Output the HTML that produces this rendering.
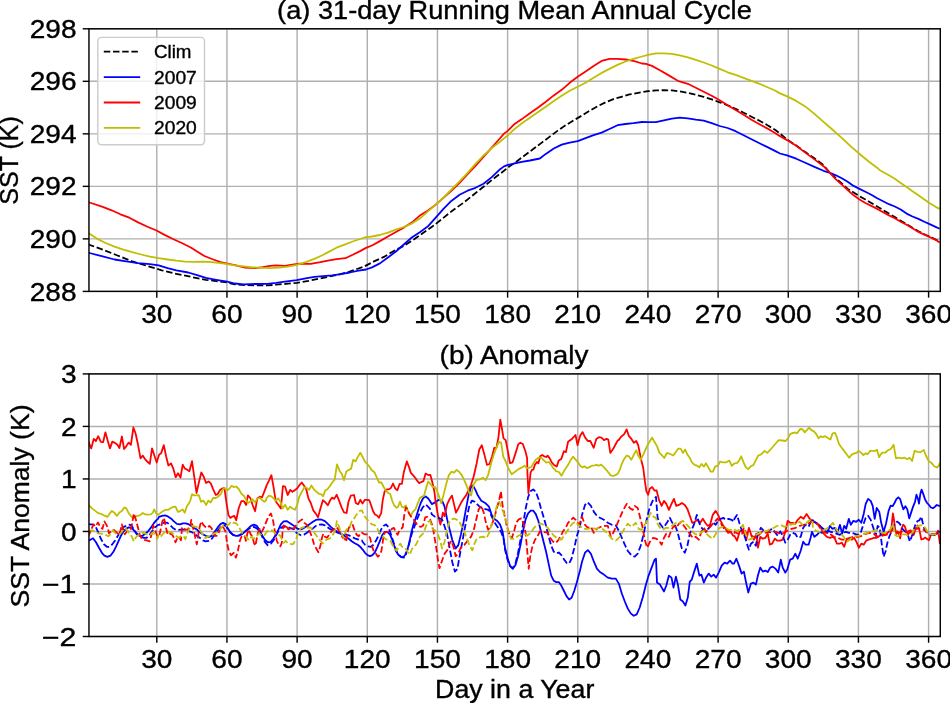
<!DOCTYPE html>
<html><head><meta charset="utf-8"><style>html,body{margin:0;padding:0;background:#fff;overflow:hidden}svg{display:block;will-change:transform}text{font-family:"Liberation Sans", sans-serif}</style></head>
<body>
<svg width="950" height="703" viewBox="0 0 950 703">
<rect width="950" height="703" fill="#fff"/>
<line x1="156.79" y1="28.8" x2="156.79" y2="291.4" stroke="#b0b0b0" stroke-width="1.43"/>
<line x1="226.95" y1="28.8" x2="226.95" y2="291.4" stroke="#b0b0b0" stroke-width="1.43"/>
<line x1="297.11" y1="28.8" x2="297.11" y2="291.4" stroke="#b0b0b0" stroke-width="1.43"/>
<line x1="367.28" y1="28.8" x2="367.28" y2="291.4" stroke="#b0b0b0" stroke-width="1.43"/>
<line x1="437.44" y1="28.8" x2="437.44" y2="291.4" stroke="#b0b0b0" stroke-width="1.43"/>
<line x1="507.61" y1="28.8" x2="507.61" y2="291.4" stroke="#b0b0b0" stroke-width="1.43"/>
<line x1="577.77" y1="28.8" x2="577.77" y2="291.4" stroke="#b0b0b0" stroke-width="1.43"/>
<line x1="647.93" y1="28.8" x2="647.93" y2="291.4" stroke="#b0b0b0" stroke-width="1.43"/>
<line x1="718.10" y1="28.8" x2="718.10" y2="291.4" stroke="#b0b0b0" stroke-width="1.43"/>
<line x1="788.26" y1="28.8" x2="788.26" y2="291.4" stroke="#b0b0b0" stroke-width="1.43"/>
<line x1="858.43" y1="28.8" x2="858.43" y2="291.4" stroke="#b0b0b0" stroke-width="1.43"/>
<line x1="928.59" y1="28.8" x2="928.59" y2="291.4" stroke="#b0b0b0" stroke-width="1.43"/>
<line x1="88.96" y1="291.40" x2="940.28" y2="291.40" stroke="#b0b0b0" stroke-width="1.43"/>
<line x1="88.96" y1="238.88" x2="940.28" y2="238.88" stroke="#b0b0b0" stroke-width="1.43"/>
<line x1="88.96" y1="186.36" x2="940.28" y2="186.36" stroke="#b0b0b0" stroke-width="1.43"/>
<line x1="88.96" y1="133.84" x2="940.28" y2="133.84" stroke="#b0b0b0" stroke-width="1.43"/>
<line x1="88.96" y1="81.32" x2="940.28" y2="81.32" stroke="#b0b0b0" stroke-width="1.43"/>
<line x1="88.96" y1="28.80" x2="940.28" y2="28.80" stroke="#b0b0b0" stroke-width="1.43"/>
<clipPath id="ca"><rect x="88.96" y="28.8" width="851.32" height="262.60"/></clipPath>
<clipPath id="cb"><rect x="88.96" y="373.9" width="851.32" height="262.60"/></clipPath>
<g clip-path="url(#ca)">
<polyline points="88.0,244.2 89.5,244.8 102.7,249.6 117.5,255.5 132.2,261.4 146.9,265.8 161.7,270.3 176.4,273.9 191.2,276.9 205.9,279.8 227.3,282.5 234.8,284.3 245.2,285.1 255.5,285.4 267.3,285.4 276.1,284.7 287.9,283.7 296.7,282.8 308.5,280.9 320.3,278.4 329.2,276.6 338.0,274.7 346.8,272.5 355.7,269.5 364.5,266.3 374.0,261.4 383.9,256.9 393.9,250.9 403.8,245.9 413.8,239.5 423.7,232.6 433.7,225.6 443.7,217.6 453.6,209.7 463.6,202.7 473.5,194.7 483.5,186.8 493.4,178.8 504.0,170.8 510.0,165.9 517.9,160.5 525.9,154.5 533.9,148.5 541.8,142.6 549.8,136.6 557.8,130.6 565.7,125.2 573.7,120.3 581.7,115.7 589.6,110.7 597.6,106.3 605.6,102.3 613.5,99.1 621.5,96.8 629.5,94.4 642.0,92.2 648.0,91.2 655.9,90.4 663.9,90.2 671.9,90.4 679.8,91.4 687.8,92.8 695.8,94.8 703.7,96.8 711.7,99.3 719.7,102.3 727.6,105.3 735.6,108.7 743.6,112.7 751.5,116.7 759.5,120.7 767.5,125.2 775.4,130.0 780.0,133.6 787.1,139.6 796.2,145.5 805.3,152.1 814.4,158.3 823.5,165.1 830.0,172.9 835.9,178.2 841.8,183.5 847.7,188.9 853.6,192.4 859.5,196.2 865.4,199.5 871.3,203.0 877.2,206.5 883.1,210.1 888.9,213.6 894.8,217.1 900.7,220.7 906.6,224.2 912.5,227.7 918.4,231.3 924.3,234.2 930.2,236.9 936.1,239.7 939.6,241.4" fill="none" stroke="#000" stroke-width="1.79" stroke-linejoin="round" stroke-linecap="butt" stroke-dasharray="6.5,2.7"/>
<polyline points="88.0,252.7 89.5,253.0 102.7,256.3 114.5,259.5 126.3,261.4 138.1,263.2 149.9,264.1 158.7,265.4 167.6,268.1 176.4,270.3 188.2,272.5 197.1,275.1 205.9,277.9 216.2,279.8 227.3,281.6 234.8,283.5 243.7,284.3 255.5,284.0 267.3,283.8 276.1,282.8 284.9,281.6 296.7,280.1 305.6,278.4 314.4,276.9 323.3,276.2 332.1,275.4 340.9,274.2 349.8,272.5 358.6,270.6 366.0,269.5 372.0,267.4 379.9,263.4 387.9,257.5 395.9,251.5 403.8,244.5 411.8,237.5 419.8,232.2 427.7,226.6 435.7,217.6 443.7,208.7 451.6,200.7 459.6,194.7 467.6,190.7 475.5,187.8 483.5,183.8 491.5,177.4 499.4,169.8 504.0,166.4 508.0,164.9 513.9,163.5 521.9,161.9 529.9,160.5 539.8,158.5 545.8,153.9 553.8,148.5 561.7,144.6 569.7,142.6 577.7,141.2 585.6,138.2 593.6,135.2 601.6,132.6 609.5,129.0 617.5,125.2 625.5,124.0 633.4,123.2 642.0,122.0 648.0,122.2 655.9,122.2 663.9,120.3 671.9,118.7 679.8,117.7 687.8,118.3 695.8,119.7 703.7,120.7 711.7,123.2 719.7,126.0 727.6,128.0 735.6,131.2 743.6,135.2 751.5,139.2 759.5,143.2 767.5,147.1 775.4,151.1 780.0,153.5 787.1,155.3 796.2,158.7 805.3,162.8 814.4,166.9 823.5,170.8 830.0,172.9 835.9,175.3 841.8,178.2 847.7,181.8 853.6,185.9 859.5,188.9 865.4,191.8 871.3,194.7 877.2,198.3 883.1,201.2 888.9,204.2 894.8,206.5 900.7,209.5 906.6,213.6 912.5,216.5 918.4,218.9 924.3,221.8 930.2,224.4 936.1,227.1 939.6,228.7" fill="none" stroke="#0000ff" stroke-width="1.79" stroke-linejoin="round" stroke-linecap="butt"/>
<polyline points="88.0,202.0 89.5,202.5 102.7,206.9 111.6,210.3 120.4,214.3 129.3,217.7 138.1,222.4 146.9,226.5 156.5,230.5 164.6,234.9 173.5,239.3 182.3,243.3 191.2,247.7 197.1,251.6 204.4,256.0 213.3,259.5 220.6,262.2 227.3,263.6 234.8,265.1 245.2,267.6 255.5,268.1 262.8,267.2 270.2,265.8 276.1,265.3 284.9,265.8 292.3,264.7 299.7,263.6 310.7,263.9 320.3,262.2 329.2,260.4 336.5,259.2 345.4,258.2 352.7,254.8 360.1,251.1 366.0,247.9 372.0,245.5 379.9,241.1 387.9,236.5 395.9,232.0 403.8,227.6 411.8,222.6 419.8,215.6 427.7,210.7 435.7,204.7 443.7,197.7 451.6,190.7 459.6,182.8 467.6,174.2 475.5,165.8 483.5,156.9 491.5,147.9 499.4,139.0 504.0,133.6 508.0,130.6 513.9,124.6 521.9,119.1 529.9,113.3 537.8,107.7 545.8,101.7 553.8,95.4 561.7,89.8 569.7,82.8 577.7,76.8 585.6,71.5 593.6,65.9 601.6,60.9 609.5,58.9 617.5,58.9 625.5,59.5 633.4,60.9 642.0,63.5 646.0,63.9 651.9,65.9 659.9,70.3 667.9,74.9 677.8,80.8 687.8,83.8 695.8,87.8 703.7,91.8 711.7,95.8 719.7,100.3 727.6,105.3 735.6,110.1 743.6,114.7 751.5,119.7 759.5,124.2 767.5,128.6 775.4,133.2 780.0,136.2 787.1,140.1 796.2,145.8 805.3,152.6 814.4,159.4 823.5,166.2 830.0,172.9 835.9,179.4 841.8,184.7 847.7,190.0 853.6,195.3 859.5,199.5 865.4,203.0 871.3,205.9 877.2,208.9 883.1,212.2 888.9,215.4 894.8,218.3 900.7,221.8 906.6,224.8 912.5,228.3 918.4,231.9 924.3,234.6 930.2,237.2 936.1,240.1 939.6,242.5" fill="none" stroke="#ff0000" stroke-width="1.79" stroke-linejoin="round" stroke-linecap="butt"/>
<polyline points="88.0,232.8 89.5,233.7 96.8,238.6 105.7,243.0 114.5,246.7 123.4,249.6 132.2,252.2 141.1,254.5 149.9,256.6 158.7,258.2 167.6,259.5 176.4,260.7 185.3,261.7 194.1,261.9 202.9,261.7 211.8,262.2 220.6,263.2 227.3,264.1 234.8,265.4 243.7,266.3 252.5,267.3 261.4,267.8 270.2,268.1 279.1,267.6 287.9,266.6 296.7,264.8 305.6,262.2 314.4,258.9 321.8,255.5 329.2,251.6 336.5,247.7 343.9,244.8 352.7,241.5 360.1,239.0 366.0,237.1 372.0,236.5 379.9,235.0 387.9,232.6 395.9,229.6 403.8,227.0 411.8,223.6 419.8,218.6 427.7,211.7 435.7,204.7 443.7,197.3 451.6,189.3 459.6,181.4 467.6,172.8 475.5,163.9 483.5,155.5 491.5,148.3 499.4,142.3 504.0,138.4 508.0,135.2 513.9,129.6 521.9,123.2 529.9,117.7 537.8,112.3 545.8,106.7 553.8,101.1 561.7,95.8 569.7,90.8 577.7,86.8 585.6,82.8 593.6,77.8 601.6,72.9 609.5,68.9 617.5,64.9 625.5,61.5 633.4,58.9 642.0,56.5 648.0,54.9 655.9,53.3 663.9,53.3 671.9,53.9 679.8,55.3 687.8,57.3 695.8,59.9 703.7,62.5 711.7,65.5 719.7,68.9 727.6,72.3 735.6,74.9 743.6,77.8 751.5,80.8 759.5,83.8 767.5,87.2 775.4,90.8 780.0,93.4 787.1,96.4 796.2,100.9 805.3,106.4 814.4,113.9 823.5,121.9 832.6,129.8 841.7,137.8 850.8,146.4 859.9,154.2 869.0,161.7 878.1,168.5 879.5,170.0 888.9,175.3 894.8,178.8 900.7,183.0 906.6,187.1 912.5,191.2 918.4,195.3 924.3,199.5 930.2,203.6 936.1,207.1 939.6,208.9" fill="none" stroke="#bfbf00" stroke-width="1.79" stroke-linejoin="round" stroke-linecap="butt"/>
</g>
<rect x="88.96" y="28.8" width="851.32" height="262.60" fill="none" stroke="#000" stroke-width="1.43"/>
<line x1="156.79" y1="291.4" x2="156.79" y2="297.65" stroke="#000" stroke-width="1.43"/>
<line x1="226.95" y1="291.4" x2="226.95" y2="297.65" stroke="#000" stroke-width="1.43"/>
<line x1="297.11" y1="291.4" x2="297.11" y2="297.65" stroke="#000" stroke-width="1.43"/>
<line x1="367.28" y1="291.4" x2="367.28" y2="297.65" stroke="#000" stroke-width="1.43"/>
<line x1="437.44" y1="291.4" x2="437.44" y2="297.65" stroke="#000" stroke-width="1.43"/>
<line x1="507.61" y1="291.4" x2="507.61" y2="297.65" stroke="#000" stroke-width="1.43"/>
<line x1="577.77" y1="291.4" x2="577.77" y2="297.65" stroke="#000" stroke-width="1.43"/>
<line x1="647.93" y1="291.4" x2="647.93" y2="297.65" stroke="#000" stroke-width="1.43"/>
<line x1="718.10" y1="291.4" x2="718.10" y2="297.65" stroke="#000" stroke-width="1.43"/>
<line x1="788.26" y1="291.4" x2="788.26" y2="297.65" stroke="#000" stroke-width="1.43"/>
<line x1="858.43" y1="291.4" x2="858.43" y2="297.65" stroke="#000" stroke-width="1.43"/>
<line x1="928.59" y1="291.4" x2="928.59" y2="297.65" stroke="#000" stroke-width="1.43"/>
<line x1="88.96" y1="291.40" x2="82.71" y2="291.40" stroke="#000" stroke-width="1.43"/>
<line x1="88.96" y1="238.88" x2="82.71" y2="238.88" stroke="#000" stroke-width="1.43"/>
<line x1="88.96" y1="186.36" x2="82.71" y2="186.36" stroke="#000" stroke-width="1.43"/>
<line x1="88.96" y1="133.84" x2="82.71" y2="133.84" stroke="#000" stroke-width="1.43"/>
<line x1="88.96" y1="81.32" x2="82.71" y2="81.32" stroke="#000" stroke-width="1.43"/>
<line x1="88.96" y1="28.80" x2="82.71" y2="28.80" stroke="#000" stroke-width="1.43"/>
<line x1="156.79" y1="373.9" x2="156.79" y2="636.5" stroke="#b0b0b0" stroke-width="1.43"/>
<line x1="226.95" y1="373.9" x2="226.95" y2="636.5" stroke="#b0b0b0" stroke-width="1.43"/>
<line x1="297.11" y1="373.9" x2="297.11" y2="636.5" stroke="#b0b0b0" stroke-width="1.43"/>
<line x1="367.28" y1="373.9" x2="367.28" y2="636.5" stroke="#b0b0b0" stroke-width="1.43"/>
<line x1="437.44" y1="373.9" x2="437.44" y2="636.5" stroke="#b0b0b0" stroke-width="1.43"/>
<line x1="507.61" y1="373.9" x2="507.61" y2="636.5" stroke="#b0b0b0" stroke-width="1.43"/>
<line x1="577.77" y1="373.9" x2="577.77" y2="636.5" stroke="#b0b0b0" stroke-width="1.43"/>
<line x1="647.93" y1="373.9" x2="647.93" y2="636.5" stroke="#b0b0b0" stroke-width="1.43"/>
<line x1="718.10" y1="373.9" x2="718.10" y2="636.5" stroke="#b0b0b0" stroke-width="1.43"/>
<line x1="788.26" y1="373.9" x2="788.26" y2="636.5" stroke="#b0b0b0" stroke-width="1.43"/>
<line x1="858.43" y1="373.9" x2="858.43" y2="636.5" stroke="#b0b0b0" stroke-width="1.43"/>
<line x1="928.59" y1="373.9" x2="928.59" y2="636.5" stroke="#b0b0b0" stroke-width="1.43"/>
<line x1="88.96" y1="636.50" x2="940.28" y2="636.50" stroke="#b0b0b0" stroke-width="1.43"/>
<line x1="88.96" y1="583.98" x2="940.28" y2="583.98" stroke="#b0b0b0" stroke-width="1.43"/>
<line x1="88.96" y1="531.46" x2="940.28" y2="531.46" stroke="#b0b0b0" stroke-width="1.43"/>
<line x1="88.96" y1="478.94" x2="940.28" y2="478.94" stroke="#b0b0b0" stroke-width="1.43"/>
<line x1="88.96" y1="426.42" x2="940.28" y2="426.42" stroke="#b0b0b0" stroke-width="1.43"/>
<line x1="88.96" y1="373.90" x2="940.28" y2="373.90" stroke="#b0b0b0" stroke-width="1.43"/>
<g clip-path="url(#cb)">
<polyline points="88.0,541.2 89.5,540.3 93.0,538.3 96.0,542.3 99.0,547.8 101.9,552.8 104.4,555.7 107.4,556.9 110.4,555.7 113.4,551.8 115.9,546.8 118.4,541.3 120.9,535.8 123.3,531.8 125.8,528.9 128.8,527.4 131.8,527.9 134.3,530.8 136.8,534.3 139.3,535.8 142.3,535.8 144.8,534.3 147.7,531.8 150.7,527.9 153.7,523.4 156.2,520.4 158.0,518.9 159.0,516.9 162.0,515.9 165.0,515.4 167.9,516.4 170.9,518.4 173.9,521.4 176.9,523.9 179.9,524.4 182.9,523.4 185.9,523.4 188.9,524.4 191.3,525.9 194.3,527.9 196.8,529.4 199.8,532.3 202.8,534.3 205.8,535.8 208.8,536.8 211.8,535.8 214.7,531.8 217.7,527.4 220.7,523.9 223.2,522.9 226.0,524.4 227.0,526.9 230.0,531.8 233.0,534.8 235.9,535.8 238.9,535.6 241.9,534.3 244.9,531.8 247.9,528.9 250.9,525.9 253.9,524.7 256.9,525.9 259.3,529.4 261.8,534.8 264.8,539.8 267.8,542.3 270.8,541.8 273.3,538.8 275.8,534.8 278.3,529.9 280.8,524.4 283.7,521.4 286.7,521.1 289.7,522.9 292.7,524.9 294.0,525.9 295.0,526.9 298.0,528.9 301.0,529.4 303.9,527.9 306.9,525.9 309.9,523.9 312.9,521.7 315.9,519.9 318.9,519.4 321.9,519.7 324.9,521.1 327.8,523.9 330.8,526.9 333.8,529.4 336.8,531.3 339.8,533.3 342.8,534.8 345.8,536.8 348.8,538.8 351.7,541.3 354.7,543.3 357.7,544.8 360.7,547.3 362.0,548.8 362.5,549.3 365.0,552.8 367.5,555.2 370.0,556.2 372.4,555.2 374.9,552.3 377.4,546.8 379.9,540.8 382.4,534.8 384.9,531.8 387.4,531.8 389.9,534.3 391.9,538.8 393.9,544.8 395.8,550.8 398.3,554.7 400.8,556.7 403.3,557.2 405.3,554.7 407.3,549.8 409.3,542.8 411.3,532.8 413.3,524.9 415.8,517.9 418.3,509.9 420.7,503.0 423.2,498.0 425.7,496.5 428.2,498.5 430.0,501.0 431.8,504.1 435.2,502.4 438.6,499.9 442.1,500.7 444.6,506.7 447.2,519.5 449.7,529.7 452.3,540.0 455.7,548.5 458.3,545.1 460.8,534.9 463.4,522.9 465.9,509.3 468.5,495.6 471.1,487.1 472.8,485.4 475.3,489.6 477.9,495.6 481.3,500.7 485.6,503.3 489.0,506.7 491.5,514.4 494.1,518.6 497.5,521.2 500.1,524.6 502.6,531.5 505.1,548.3 507.7,558.5 510.2,566.2 512.8,568.8 515.4,565.3 517.9,556.8 520.5,544.9 523.0,531.2 525.6,519.3 528.1,513.3 530.7,510.7 533.3,510.7 535.8,514.1 538.4,521.0 540.9,531.2 543.5,541.5 546.1,551.7 548.6,563.6 551.2,575.6 553.7,580.7 556.3,582.1 558.8,582.1 561.4,585.8 564.0,591.0 566.5,596.1 569.1,599.5 571.6,597.8 574.2,591.0 576.8,582.4 580.0,570.5 582.0,561.7 585.0,552.7 587.9,550.1 590.9,553.7 593.9,561.7 596.9,568.6 599.9,572.0 603.9,574.6 607.8,577.6 611.8,578.6 615.8,578.6 618.8,583.6 621.8,593.5 624.8,601.5 627.7,608.4 630.7,613.4 633.7,615.8 636.7,614.4 639.7,607.5 642.7,597.5 645.7,585.5 648.6,575.6 651.6,567.6 654.6,559.7 656.0,558.7 657.0,582.6 660.0,584.6 664.0,591.5 666.3,585.5 668.9,575.6 671.5,577.6 673.5,587.5 675.9,576.6 677.9,584.6 680.3,599.5 682.9,601.5 685.4,605.5 687.8,597.5 689.8,581.6 691.8,579.6 694.2,571.6 696.8,563.6 699.4,575.6 701.4,574.6 703.8,582.6 706.1,577.6 708.7,573.6 711.3,576.6 713.7,574.6 716.1,577.6 718.7,572.6 721.7,565.6 724.6,562.6 727.2,563.6 730.0,560.7 732.6,563.6 734.0,563.6 736.4,558.7 739.0,565.6 741.6,573.6 743.9,571.6 746.3,583.6 748.3,592.5 750.9,583.6 753.5,582.6 755.9,584.6 757.9,575.6 760.3,567.6 762.8,571.6 765.4,570.6 767.8,572.0 770.2,567.6 772.8,566.6 775.4,568.6 778.2,572.6 780.8,559.7 782.7,567.6 785.3,572.6 787.3,569.6 790.1,559.7 792.7,558.7 795.3,553.7 797.7,558.7 800.7,550.7 803.2,541.7 805.6,544.7 808.6,544.7 810.6,537.8 812.0,531.8 814.4,536.8 817.0,534.8 819.6,531.8 822.3,532.8 824.9,530.8 827.5,532.8 829.9,525.8 832.3,528.8 834.9,527.8 837.5,532.8 839.9,524.8 842.2,533.8 844.2,525.8 846.2,528.8 848.8,518.8 850.8,524.8 853.4,520.8 856.2,521.8 858.8,519.8 861.3,522.8 863.7,513.9 865.7,503.9 868.1,498.9 870.7,500.9 872.7,505.9 874.7,518.8 876.7,507.9 879.3,511.9 881.2,522.8 883.6,531.8 886.0,523.8 888.6,510.9 890.6,505.6 892.6,506.2 894.5,503.0 896.4,499.2 898.3,497.3 900.2,499.2 901.9,505.0 903.4,509.4 905.4,506.2 907.3,509.4 909.2,518.4 911.1,512.6 913.0,506.9 915.0,501.8 916.5,494.7 918.1,499.2 919.0,503.7 920.3,494.1 921.6,489.6 923.3,494.1 925.2,499.8 927.1,503.0 929.0,505.0 930.9,507.5 932.9,508.2 934.8,506.9 936.7,505.0 938.6,505.6 939.9,506.2" fill="none" stroke="#0000ff" stroke-width="1.79" stroke-linejoin="round" stroke-linecap="butt"/>
<polyline points="88.0,440.3 89.5,444.2 91.2,448.4 93.8,438.8 95.9,441.2 98.2,436.2 100.8,441.9 103.1,442.2 105.4,432.3 107.8,441.0 110.0,448.4 112.3,441.6 114.9,442.9 117.4,444.8 119.4,448.0 121.9,436.5 124.1,449.0 126.4,446.1 128.7,442.6 130.9,444.8 133.4,427.5 135.6,433.5 137.9,444.2 140.5,458.3 142.8,455.7 145.0,459.1 147.5,461.8 149.8,463.8 152.0,448.4 154.3,455.3 156.7,462.5 159.1,454.8 161.2,453.1 163.8,445.1 166.1,456.3 168.4,465.5 171.0,463.4 173.1,468.1 175.7,477.2 178.0,473.2 180.5,477.6 182.7,464.6 184.7,468.4 187.3,469.7 189.4,471.2 192.0,461.2 194.2,476.3 196.5,493.0 198.8,482.7 201.3,472.5 203.5,476.3 206.1,483.0 208.6,481.5 210.8,483.4 213.1,489.1 215.7,494.9 217.6,494.3 220.2,489.8 222.3,488.5 224.4,487.9 226.6,503.8 228.5,515.3 230.4,517.9 232.3,516.6 234.3,515.9 236.2,520.2 238.7,508.3 241.3,501.2 243.9,501.2 246.2,505.0 247.9,495.4 250.3,498.0 252.6,505.0 255.1,511.2 257.3,498.4 259.9,496.7 262.0,497.4 264.3,491.6 266.0,487.1 266.6,485.4 269.1,480.3 271.4,475.2 273.6,487.4 275.8,501.5 278.3,504.7 280.9,508.5 282.9,486.1 285.1,486.7 287.7,495.0 290.2,489.9 292.4,491.8 294.7,490.2 297.0,488.6 299.2,485.4 301.8,482.5 303.9,485.4 306.2,489.3 308.6,498.9 310.7,502.7 313.3,510.4 315.8,513.6 318.0,517.2 320.3,509.1 322.9,500.2 325.2,502.1 327.8,505.3 329.9,500.8 331.9,497.6 334.2,498.9 336.7,494.8 339.3,501.2 341.8,507.9 344.0,512.3 346.6,513.0 348.5,501.5 350.8,495.7 354.0,495.0 355.8,503.0 358.1,504.3 360.3,499.8 362.5,503.6 364.8,499.8 367.1,499.8 369.3,500.2 371.2,505.5 373.1,511.3 375.0,514.5 377.0,515.5 378.9,517.7 381.2,513.2 382.7,500.4 384.6,491.5 386.8,489.5 389.4,489.1 391.0,487.9 393.0,483.5 395.3,488.6 397.4,490.2 399.6,483.8 401.9,483.8 403.8,472.2 406.8,461.4 409.0,467.1 410.9,472.9 413.2,475.4 415.4,478.0 417.5,481.2 419.2,483.1 421.8,481.8 423.4,481.2 425.6,473.5 428.2,475.1 430.3,474.8 432.4,482.5 434.6,492.7 435.2,499.0 437.8,514.4 440.4,524.6 442.9,512.7 444.6,516.1 447.2,504.1 449.7,499.0 452.0,495.6 454.0,504.1 456.0,512.7 458.3,508.4 460.8,503.3 463.4,499.0 465.9,495.6 468.5,490.5 471.1,484.5 473.6,476.8 476.7,463.2 479.3,449.5 481.8,445.2 484.4,454.6 487.0,464.9 489.5,464.0 492.1,456.3 494.3,447.8 496.4,447.8 498.4,437.6 500.3,419.6 502.3,430.7 503.5,438.4 505.7,440.1 508.0,452.1 510.0,463.2 512.6,462.3 515.1,454.6 518.2,444.4 520.3,442.7 522.8,444.0 525.4,451.2 527.1,458.0 527.4,472.7 528.4,493.3 529.4,484.1 530.6,472.7 532.0,469.8 533.4,469.5 534.8,464.9 537.0,462.0 538.4,463.4 540.2,456.3 542.2,454.9 544.1,456.3 546.2,457.0 547.6,455.6 549.7,458.4 551.9,462.7 554.0,464.9 555.0,465.6 556.7,466.6 558.7,460.6 561.3,458.9 563.9,451.2 565.9,452.1 568.1,441.8 571.5,439.3 575.5,435.0 577.5,445.2 580.1,435.8 582.6,432.1 585.2,437.6 587.8,441.0 590.3,441.0 593.7,447.8 596.3,438.9 598.9,437.2 601.4,437.6 604.0,440.1 606.6,438.9 608.3,439.6 610.3,452.9 613.4,448.6 616.0,443.5 618.0,440.1 618.6,440.1 621.1,436.7 624.2,434.1 626.6,429.4 628.8,435.8 631.4,438.9 633.9,442.7 636.2,441.0 638.2,445.2 639.9,453.8 641.6,461.5 643.3,468.3 645.0,481.9 646.4,491.3 648.1,494.7 649.8,488.8 652.2,487.1 654.4,490.5 656.6,490.5 659.0,499.9 661.6,505.9 664.0,500.9 666.3,503.9 668.9,509.9 671.5,503.9 673.9,498.9 676.3,505.9 678.9,504.9 681.9,502.9 684.8,504.9 687.4,508.9 689.8,515.8 692.2,522.8 694.8,521.8 697.4,519.8 700.2,522.8 702.8,518.8 705.3,522.8 707.7,525.8 710.1,524.8 712.7,514.9 715.7,510.9 718.1,514.9 720.7,520.8 723.3,525.8 725.6,528.8 728.0,532.8 730.6,531.8 733.2,535.8 734.4,535.8 737.0,540.7 739.6,531.8 742.0,529.8 744.3,533.8 746.3,539.7 748.9,527.8 751.5,535.8 753.9,539.7 756.3,533.8 757.9,547.7 760.3,536.8 762.8,538.7 765.4,537.8 767.8,533.8 769.8,544.7 772.2,543.7 774.8,538.7 777.4,540.7 780.2,540.7 782.7,539.7 785.3,531.8 787.7,520.8 790.1,522.8 792.7,522.8 795.3,523.8 797.7,519.8 800.7,516.8 803.6,518.8 806.6,513.9 809.6,518.8 812.0,520.8 813.0,521.8 816.0,522.8 819.0,524.8 820.9,527.8 823.9,533.8 826.9,536.8 829.9,537.8 832.9,536.8 834.9,538.7 836.9,543.7 839.5,543.7 841.8,542.7 844.2,546.7 846.8,538.7 849.4,538.7 851.8,539.7 854.2,537.8 856.8,542.7 858.8,547.7 861.3,543.7 863.7,544.7 866.1,540.7 868.7,539.7 871.7,538.7 874.1,537.8 876.7,537.8 879.7,535.8 882.6,533.8 885.6,534.8 888.6,531.8 891.3,528.6 892.9,513.3 893.8,518.4 895.1,528.6 896.4,533.8 898.3,532.5 900.2,538.3 901.5,528.6 903.2,524.8 904.7,526.1 906.2,530.6 907.9,534.4 909.8,532.5 911.8,531.2 913.7,535.0 915.6,528.6 917.5,525.4 919.4,529.9 921.3,539.5 923.3,538.9 925.2,537.6 927.1,538.9 929.0,540.2 930.9,535.0 932.9,533.8 934.8,535.0 936.7,533.8 938.0,530.6 939.3,538.9 939.9,544.0" fill="none" stroke="#ff0000" stroke-width="1.79" stroke-linejoin="round" stroke-linecap="butt"/>
<polyline points="88.0,504.5 90.0,506.5 92.0,508.4 94.0,509.9 96.5,511.9 99.0,513.4 101.4,513.9 103.9,515.4 107.4,516.9 109.4,513.9 111.9,510.9 114.1,512.4 116.9,515.9 119.4,512.4 121.9,510.9 124.3,507.4 126.3,508.4 128.3,512.4 130.8,515.9 132.6,517.9 134.3,517.4 136.8,515.9 139.8,515.4 142.8,512.9 145.3,514.4 147.7,514.7 150.7,514.4 152.7,512.9 154.2,509.4 156.2,513.4 158.0,514.9 160.0,513.4 162.5,511.4 165.0,509.9 167.9,509.9 170.4,508.4 172.9,506.9 175.4,506.7 176.0,507.6 177.9,511.8 180.5,510.8 182.7,509.5 184.7,512.7 186.9,506.3 188.8,503.5 190.3,500.6 192.0,494.2 194.2,495.4 196.5,495.4 198.8,495.1 201.0,501.8 203.5,500.6 206.1,505.0 208.3,500.6 210.6,502.5 213.1,498.0 215.7,498.0 218.2,496.7 220.8,494.2 222.7,489.7 224.6,487.8 227.2,490.3 229.1,489.0 231.7,485.8 233.6,487.1 236.2,486.5 238.7,489.0 241.3,493.5 243.9,495.8 245.8,499.3 247.9,503.1 250.3,501.2 252.6,499.3 255.1,502.5 257.3,498.6 259.9,498.0 262.0,499.9 264.3,501.8 266.0,500.6 266.3,498.3 268.9,495.7 271.4,496.3 273.6,498.3 275.8,500.8 278.1,498.3 280.4,501.5 282.6,508.5 285.1,504.7 287.7,509.8 290.2,506.6 292.4,508.5 295.0,509.8 297.3,504.7 299.2,497.0 301.8,491.8 304.3,487.4 306.9,488.0 309.1,489.9 311.4,485.4 313.9,489.3 316.5,491.8 319.0,493.8 321.4,494.4 323.1,496.3 325.2,490.6 327.4,489.3 329.9,486.1 332.5,482.2 334.7,479.7 337.0,464.3 339.5,470.7 341.8,473.9 344.0,480.3 346.3,471.4 348.5,470.1 351.1,468.8 353.2,459.8 355.6,461.4 357.8,456.9 360.3,452.8 362.9,457.5 364.8,461.4 367.1,463.9 369.3,466.5 371.8,470.3 374.4,472.2 377.0,478.0 379.1,482.5 381.4,482.5 383.7,487.0 385.5,490.2 387.8,492.7 390.2,494.0 392.3,501.1 394.2,505.5 396.6,507.8 398.1,506.8 400.0,501.7 401.9,506.8 403.8,507.5 405.8,505.5 408.3,511.9 410.6,516.0 412.8,511.9 415.4,509.4 417.9,503.0 419.9,497.9 422.2,496.6 423.9,495.9 426.3,487.6 428.2,481.5 430.3,483.8 432.7,487.0 435.0,487.0 437.1,490.8 439.1,496.6 441.2,503.3 443.8,493.9 446.3,483.7 448.9,475.1 451.4,471.7 454.0,472.6 456.6,470.0 459.1,471.7 461.7,475.1 464.2,480.2 466.8,486.2 469.0,492.2 471.1,495.6 473.6,484.5 476.2,480.2 479.6,479.4 483.0,477.7 485.6,480.2 488.1,475.1 491.2,463.2 493.8,454.6 496.4,447.8 498.9,441.8 501.1,442.7 503.2,456.3 505.7,461.5 508.3,468.3 511.7,474.3 515.1,471.7 518.6,469.1 522.0,467.4 524.5,465.7 527.1,468.3 530.0,467.4 531.3,467.0 533.4,463.4 535.5,459.9 538.4,457.7 541.2,457.7 544.1,460.6 546.2,462.7 549.0,462.0 551.2,464.9 553.3,468.4 555.0,469.8 556.0,471.2 558.9,472.0 561.5,475.8 564.4,470.3 567.8,465.3 570.3,460.6 573.0,456.7 575.4,459.4 577.9,462.3 580.4,466.1 582.5,467.4 584.6,466.3 587.2,468.2 589.7,466.9 592.2,465.7 594.7,465.3 596.4,464.8 598.9,465.7 601.1,464.6 604.0,467.4 607.4,471.2 610.7,475.4 613.3,476.0 615.8,474.9 617.9,473.7 620.0,469.1 621.1,465.7 623.7,459.7 626.6,455.5 628.8,456.3 631.4,459.7 633.9,454.6 636.2,450.4 638.2,455.5 640.8,459.7 643.3,454.6 645.9,448.6 648.4,443.5 652.2,437.6 654.4,441.8 657.0,446.1 659.5,452.9 662.1,455.5 664.2,458.0 666.9,452.9 669.8,453.8 673.2,455.5 675.8,452.1 678.3,448.6 680.6,448.6 682.9,452.9 685.2,449.5 687.4,454.6 689.8,458.0 692.0,462.3 694.6,464.9 697.1,465.7 699.3,467.4 701.4,464.0 704.0,466.6 706.0,463.2 708.3,467.4 710.8,471.7 712.9,471.7 715.1,466.6 717.7,465.7 720.2,461.5 722.8,462.3 726.2,462.3 729.3,460.6 731.7,465.7 734.4,463.5 737.3,462.8 739.0,460.6 741.2,456.3 743.6,462.3 745.8,467.4 748.1,469.1 751.0,466.2 753.5,464.9 756.1,459.7 758.3,455.5 761.2,454.3 764.6,450.9 767.2,452.9 769.7,450.4 772.3,447.5 775.7,443.5 778.8,440.1 782.2,440.5 785.6,441.0 788.0,438.4 790.2,434.1 792.8,432.9 794.0,432.8 794.6,432.4 797.1,433.3 800.2,429.0 802.6,429.4 804.8,432.4 807.0,429.9 809.1,427.7 811.1,429.9 814.2,431.6 816.3,434.1 818.5,438.4 820.7,436.2 822.7,437.2 825.3,436.2 827.9,437.9 830.4,439.6 832.6,433.3 835.0,432.8 836.7,436.7 839.0,444.0 841.5,447.5 844.1,450.9 846.6,454.3 849.2,457.7 851.8,454.6 854.3,453.3 856.6,452.9 858.6,450.9 861.2,452.9 863.4,455.0 865.8,453.3 867.5,454.3 870.2,450.9 872.6,450.9 875.3,450.9 877.0,449.8 879.1,457.2 880.8,454.3 882.0,452.9 883.4,452.7 885.2,452.7 888.0,450.3 890.8,449.0 893.6,444.8 896.0,458.3 899.1,457.7 901.9,458.3 904.7,457.7 907.1,459.2 909.6,457.7 912.1,461.0 914.5,450.9 917.6,451.8 920.7,452.1 923.7,449.9 925.9,455.5 928.7,461.0 931.5,462.9 934.2,466.2 937.0,467.5 938.9,465.6 939.8,462.9" fill="none" stroke="#bfbf00" stroke-width="1.79" stroke-linejoin="round" stroke-linecap="butt"/>
<polyline points="88.0,524.4 89.5,524.4 92.5,524.4 95.5,526.4 98.0,531.8 100.9,538.8 103.9,544.3 106.9,546.8 109.4,546.8 111.9,544.8 114.9,540.8 117.9,535.8 120.9,531.3 123.8,526.9 126.8,525.4 129.8,524.7 131.8,525.9 133.8,529.4 135.8,532.3 138.8,535.3 141.3,536.8 143.8,537.8 146.7,537.8 149.7,534.8 152.7,530.3 155.7,526.9 158.0,524.9 159.0,524.9 162.0,523.4 165.0,522.4 167.5,522.9 169.9,524.9 172.9,527.9 175.9,529.9 178.9,529.9 181.9,529.4 184.9,529.9 187.9,530.8 190.9,531.8 193.8,533.3 196.8,535.8 199.8,537.8 202.8,540.3 205.8,541.3 208.8,540.8 211.8,538.8 214.7,534.8 217.7,530.3 220.7,527.4 223.7,525.4 226.0,525.9 227.0,527.9 230.0,532.3 233.0,534.8 235.9,535.8 238.9,535.3 241.9,533.8 244.9,531.3 247.9,529.4 250.9,527.4 253.9,526.9 256.9,528.4 259.3,531.3 261.8,535.8 264.8,541.8 267.8,545.3 270.8,543.8 273.3,540.8 275.8,535.8 278.3,531.3 280.8,527.9 283.7,525.9 286.7,526.9 289.7,527.9 292.7,528.9 294.0,529.4 295.0,531.8 298.0,533.8 301.0,535.3 303.9,534.8 306.9,532.8 309.9,530.3 312.9,528.4 315.9,525.9 318.9,524.7 321.9,524.4 324.9,525.4 327.8,527.4 330.8,529.4 333.8,530.8 336.8,532.3 339.8,533.3 342.8,533.8 345.8,534.3 348.8,535.3 351.7,536.8 354.7,538.3 357.7,539.3 360.7,540.3 362.0,540.3 362.5,541.8 365.0,544.8 368.0,546.3 371.0,546.8 373.4,544.8 375.9,540.8 378.4,535.8 380.9,529.9 383.4,525.9 385.9,524.4 388.4,526.9 390.4,532.8 392.4,538.8 394.4,545.3 396.3,550.8 398.8,554.7 401.3,557.2 403.8,557.7 405.8,554.7 407.8,548.8 409.8,540.8 411.8,533.8 414.3,526.9 416.8,519.9 419.7,512.9 422.7,507.4 425.7,504.5 428.2,506.9 430.0,508.9 431.8,514.4 435.2,516.9 438.6,517.8 442.1,519.5 444.6,526.3 447.2,534.9 449.7,548.5 452.3,562.2 454.9,571.6 457.4,569.0 459.1,558.8 461.7,545.1 464.2,531.5 466.8,517.8 469.3,505.8 471.9,500.7 474.5,501.6 477.0,504.1 479.6,506.7 483.0,508.4 486.4,509.3 489.0,510.1 491.5,516.1 494.9,522.9 498.3,528.0 500.9,531.5 503.5,538.3 505.1,550.0 507.7,560.2 510.2,566.2 512.8,567.9 515.4,563.6 517.9,553.4 520.5,539.7 523.0,524.4 525.6,509.0 528.1,497.1 530.7,491.1 533.3,489.4 535.8,491.9 538.4,498.8 540.9,508.2 543.5,516.7 546.1,526.1 548.6,536.3 551.2,545.7 553.7,551.7 556.3,553.4 558.8,552.5 561.4,555.1 564.0,559.4 566.5,562.8 569.1,563.6 571.6,558.5 574.2,548.3 576.8,536.3 580.0,526.1 582.0,514.9 585.0,504.9 587.5,502.3 590.9,505.9 593.9,511.9 596.9,515.8 599.9,517.8 603.9,519.8 607.8,522.8 611.8,524.8 615.8,525.4 618.8,530.8 621.8,537.8 624.8,544.7 627.7,550.7 631.7,555.7 634.7,556.7 637.7,553.7 640.7,545.7 643.7,533.8 646.6,519.8 649.6,507.9 652.6,500.9 656.0,496.9 657.6,517.8 660.0,523.8 663.0,527.8 664.9,525.8 667.5,521.8 669.9,517.8 672.3,522.8 674.9,524.8 677.5,531.8 679.5,539.7 681.9,548.7 684.8,552.7 687.4,545.7 689.8,533.8 691.8,529.8 694.2,523.8 696.8,514.9 698.8,521.8 700.8,526.8 703.4,529.8 705.7,531.8 708.1,528.8 710.7,525.8 713.3,522.8 715.7,524.8 718.1,520.8 720.7,518.8 723.3,517.8 725.6,519.8 728.6,518.8 731.6,519.8 734.0,521.8 734.4,518.8 737.0,514.9 739.6,523.8 742.0,530.8 744.9,536.8 746.9,543.7 748.9,549.7 750.9,543.7 753.5,541.7 755.9,545.7 757.9,533.8 760.9,527.8 763.8,530.8 766.8,531.8 769.8,529.8 772.8,528.8 775.4,532.8 777.8,535.8 780.2,531.4 782.7,535.8 785.3,542.7 787.7,539.7 790.1,534.8 792.7,532.8 795.3,533.8 797.7,537.8 800.7,536.8 803.2,527.8 805.6,524.8 808.6,526.8 812.0,518.8 813.0,520.8 816.0,522.8 819.0,524.8 821.9,527.8 824.9,529.8 827.9,530.8 830.9,531.8 833.9,532.8 836.9,533.8 839.9,534.8 842.8,532.8 845.8,531.8 848.8,532.8 851.8,532.8 854.8,533.8 857.8,534.8 860.7,532.8 863.3,524.8 865.7,517.8 868.1,515.8 870.7,519.8 873.3,527.8 875.7,535.8 877.7,525.8 879.7,527.8 882.0,545.7 883.6,556.8 885.5,551.7 887.4,542.7 889.4,536.3 891.3,531.8 893.2,527.4 895.1,523.5 897.0,521.6 899.0,522.9 900.9,525.4 902.8,529.3 904.7,531.2 906.6,532.5 907.9,535.0 909.8,541.5 911.8,536.3 913.7,529.9 915.6,524.2 917.5,521.0 919.4,520.3 921.3,516.5 922.6,522.2 924.5,529.3 926.5,532.5 928.4,533.8 930.3,535.0 932.2,534.4 934.1,535.0 936.1,534.4 938.0,533.1 939.9,531.2" fill="none" stroke="#0000ff" stroke-width="1.79" stroke-linejoin="round" stroke-linecap="butt" stroke-dasharray="6.5,2.7"/>
<polyline points="88.0,537.0 90.0,532.3 91.5,528.9 93.5,524.4 95.5,526.4 98.0,522.4 99.9,526.4 102.4,528.9 104.4,521.4 106.4,524.9 107.9,527.9 108.9,533.3 110.9,531.8 113.9,529.9 116.4,532.3 118.9,534.8 120.4,530.8 121.9,524.4 123.3,529.4 124.8,534.3 126.8,531.8 128.8,529.4 130.8,529.4 132.3,522.9 133.8,513.4 135.8,519.4 137.8,526.9 139.8,534.8 141.8,538.8 144.3,539.8 146.7,540.3 149.7,541.3 151.7,533.8 153.2,525.4 154.7,528.9 156.7,534.8 158.0,536.8 159.5,534.8 161.0,527.9 162.5,520.9 164.0,517.9 166.0,527.9 167.9,534.8 169.9,533.8 171.9,534.3 173.4,536.8 175.4,542.3 177.4,537.8 179.4,537.8 180.9,540.3 182.1,527.9 183.4,526.9 185.4,529.9 187.9,529.4 190.4,524.9 191.3,519.9 192.8,526.9 194.3,532.8 195.8,540.8 196.8,544.3 197.8,538.8 198.8,530.8 200.3,524.4 201.6,521.4 203.3,524.9 205.3,526.9 207.3,527.9 209.3,525.9 211.3,527.9 212.8,530.8 214.7,535.8 216.7,535.8 218.7,532.8 221.2,525.9 223.7,527.9 225.2,530.8 226.0,534.8 227.0,542.8 229.0,551.8 231.0,555.2 234.0,552.8 235.9,557.7 237.9,550.8 239.9,540.8 241.4,536.8 242.9,535.3 244.9,536.8 245.9,540.8 247.4,533.3 248.9,529.4 250.4,533.8 252.4,536.8 253.9,542.8 255.4,545.8 256.4,540.3 257.9,532.8 259.8,528.9 261.8,531.8 263.8,527.9 265.8,522.9 268.3,516.9 270.8,513.4 272.8,518.9 274.3,527.9 275.3,533.8 276.8,540.8 278.3,543.8 280.3,546.3 281.8,542.8 282.7,529.9 283.7,525.4 285.2,528.9 286.7,526.9 288.2,529.4 289.7,528.9 291.7,526.9 294.0,528.9 294.5,527.9 297.5,522.9 300.0,520.9 302.0,519.4 304.4,522.9 306.9,524.9 308.4,527.9 309.9,531.8 311.9,536.8 313.9,543.8 316.4,548.8 318.4,552.3 320.4,545.8 321.9,537.8 323.4,533.8 324.9,536.8 326.9,537.8 328.8,535.3 330.8,532.3 332.8,529.9 334.3,528.9 336.3,526.9 338.3,529.4 340.8,533.8 342.8,537.8 344.8,538.8 346.3,541.8 347.3,532.8 348.8,527.9 350.7,524.9 352.7,524.9 354.7,530.8 356.7,534.8 358.7,536.3 360.7,532.8 362.0,532.8 364.5,534.3 367.5,534.3 370.0,537.8 371.9,545.8 373.9,551.8 375.9,553.7 377.9,556.7 379.9,554.7 381.4,550.8 382.4,544.8 383.4,536.8 384.9,532.3 387.4,531.8 389.9,531.3 391.9,528.9 393.9,527.9 395.8,531.8 397.6,534.8 399.3,530.8 401.3,528.9 402.8,526.9 404.3,514.9 405.8,507.4 407.3,508.9 409.3,513.9 411.8,517.9 413.8,519.9 415.8,522.9 418.3,525.9 420.7,526.9 423.2,525.4 425.2,517.4 427.2,516.9 428.7,518.4 430.0,519.4 432.7,526.3 434.4,536.6 436.1,546.8 437.8,558.8 439.5,568.2 442.1,560.5 444.6,553.6 447.2,550.2 449.7,543.4 451.4,540.8 454.0,548.5 455.7,556.2 458.3,553.6 460.8,547.7 464.2,545.1 467.6,540.8 471.1,536.6 473.6,530.6 476.2,519.5 478.7,509.3 481.3,505.8 483.8,512.7 485.6,521.2 488.1,529.7 490.7,527.2 493.2,521.2 496.6,509.3 499.2,499.9 500.9,491.3 502.6,505.8 504.3,514.1 506.8,526.1 509.4,534.6 511.9,538.0 514.5,529.5 516.2,522.7 518.8,519.3 521.3,518.4 523.9,524.4 525.6,532.9 527.3,551.7 528.7,568.8 530.4,555.1 532.4,546.6 535.0,539.7 537.5,536.3 540.1,531.2 542.6,532.1 545.2,532.1 547.8,532.9 550.3,538.0 552.9,541.5 555.4,543.2 558.0,540.6 560.6,536.3 563.1,531.2 565.7,527.8 568.2,522.7 570.8,520.1 573.3,517.6 575.9,520.1 578.5,524.4 580.0,522.7 582.0,516.8 585.0,524.8 587.9,527.8 590.9,526.8 593.9,532.8 596.9,528.8 600.9,526.8 604.9,525.8 607.8,525.8 610.8,536.8 613.8,531.8 616.8,524.8 619.8,517.8 622.8,510.9 626.7,503.9 629.7,507.9 632.7,509.9 634.7,505.9 637.7,507.9 639.7,515.8 642.7,527.8 644.7,539.7 647.2,547.7 650.0,541.7 653.2,537.8 656.0,538.7 656.4,538.7 659.0,540.7 661.6,544.7 664.0,537.8 666.3,533.8 668.9,536.8 671.5,529.8 673.9,525.8 676.3,527.8 678.9,523.8 681.5,521.8 683.9,525.8 686.8,529.8 689.8,533.8 692.8,537.8 695.8,536.8 698.8,539.7 701.4,531.8 703.8,527.8 706.1,531.8 708.7,528.8 711.7,524.8 714.7,521.8 717.3,518.8 719.7,520.8 722.7,526.8 725.6,530.8 728.6,530.8 731.6,532.8 734.0,533.8 735.0,531.8 738.0,533.8 742.0,533.8 743.9,527.8 746.9,534.8 749.9,534.8 753.5,536.8 756.9,537.8 759.9,533.8 762.8,530.8 765.8,532.8 768.8,531.8 771.8,532.8 775.8,531.8 779.8,533.8 783.7,532.8 787.7,530.8 791.7,528.8 795.7,527.8 799.7,525.8 803.6,524.8 807.6,523.8 812.0,521.8 814.0,521.8 818.0,524.8 821.9,530.8 825.9,532.8 829.9,533.8 833.9,536.8 837.9,537.8 841.8,539.7 845.8,539.7 849.8,537.8 853.8,536.8 857.8,536.8 861.7,535.8 865.7,533.8 869.7,532.8 873.7,533.8 877.7,536.8 881.6,535.8 885.6,534.8 890.0,533.8 891.9,529.9 894.5,529.3 897.0,531.2 899.6,532.5 902.2,531.8 904.7,532.5 907.3,531.8 909.8,530.6 912.4,529.9 915.0,529.3 917.5,528.6 920.1,528.6 922.6,529.3 925.2,530.6 927.7,532.5 930.3,533.8 932.9,534.4 935.4,533.8 938.0,532.5 939.9,531.8" fill="none" stroke="#ff0000" stroke-width="1.79" stroke-linejoin="round" stroke-linecap="butt" stroke-dasharray="6.5,2.7"/>
<polyline points="88.0,530.3 90.0,530.3 92.5,530.3 95.5,531.6 98.0,533.3 100.9,533.6 103.9,534.3 106.4,535.3 108.4,536.3 110.4,534.3 112.9,530.3 115.4,533.3 117.4,534.3 119.9,534.3 121.9,531.8 124.3,528.4 126.3,528.9 128.8,532.8 130.8,534.8 132.8,538.8 133.8,541.3 135.3,538.3 137.3,535.8 139.8,534.3 142.3,532.6 144.8,533.3 147.2,534.3 150.2,534.8 153.2,532.3 155.7,536.3 157.2,538.8 158.0,536.8 158.5,534.8 161.0,536.3 163.5,533.3 166.0,531.3 168.9,531.8 171.4,532.3 173.9,534.8 176.4,536.3 178.9,537.8 181.4,535.8 183.9,536.8 185.4,539.3 187.9,531.8 190.9,525.9 193.8,526.4 196.8,526.9 199.8,529.9 202.8,534.8 205.3,538.3 207.8,536.3 210.3,536.3 212.8,534.3 215.7,532.8 218.7,531.8 221.7,526.9 223.7,524.9 226.0,525.9 228.5,524.9 231.0,521.4 233.5,522.9 236.4,523.4 238.9,526.9 241.4,531.8 243.9,535.3 246.4,536.8 248.9,540.3 251.4,536.8 253.9,538.8 256.4,536.8 258.9,533.3 261.8,535.3 264.3,535.3 266.8,531.8 269.3,529.9 271.8,530.3 274.3,532.3 276.3,534.3 278.3,534.3 280.3,535.8 282.3,540.3 283.7,542.8 285.7,540.8 287.7,543.3 290.2,543.8 292.7,544.3 294.0,542.8 294.5,541.8 296.5,537.8 298.5,532.8 300.5,528.4 303.0,527.4 305.4,526.4 307.9,527.9 310.4,527.4 312.9,530.3 315.4,534.3 317.9,537.8 320.4,540.8 322.9,543.3 324.9,540.8 327.3,539.3 329.8,538.3 332.3,535.8 334.3,532.3 335.8,527.9 336.8,521.1 338.3,524.9 339.8,529.4 341.8,533.8 343.8,537.8 345.8,530.8 347.8,527.9 349.8,526.9 351.7,521.4 354.2,518.4 356.7,514.4 359.7,510.9 362.0,510.4 364.5,515.9 367.0,519.4 369.5,521.9 371.9,524.4 374.4,524.9 376.9,527.9 378.9,531.8 380.9,533.8 383.4,536.8 385.9,539.3 388.4,539.8 390.4,540.8 392.4,544.8 394.4,548.8 396.8,550.8 398.8,545.8 400.3,543.8 401.8,546.3 403.8,548.8 405.8,548.8 407.8,552.3 409.8,554.7 411.8,549.3 413.8,546.8 415.8,544.8 417.8,540.8 419.7,536.8 421.7,534.8 423.7,532.8 425.7,526.9 427.7,521.9 430.0,520.9 432.7,528.9 435.2,530.6 437.8,534.0 440.4,541.7 442.1,548.5 444.6,541.7 446.3,533.2 448.9,522.9 451.4,519.5 454.0,518.6 456.6,519.5 459.1,521.2 461.7,526.3 464.2,531.5 466.8,538.3 469.7,546.0 472.4,550.2 474.5,543.4 477.0,538.3 479.6,537.4 483.0,536.6 486.4,538.3 489.0,533.2 491.5,524.6 494.1,516.9 496.6,506.7 499.2,501.6 501.8,508.4 505.0,516.1 508.5,532.9 511.1,538.9 513.6,538.9 516.2,537.2 518.8,535.5 521.3,534.6 523.9,533.8 527.3,535.5 530.7,532.9 534.1,527.8 537.5,524.4 540.9,523.5 544.3,525.2 547.8,527.8 551.2,532.9 554.6,536.3 558.0,538.9 561.4,539.7 564.8,534.6 568.2,529.5 571.6,524.4 575.1,521.8 578.5,525.2 580.0,526.1 584.0,528.8 587.9,528.8 591.9,527.8 595.9,528.8 599.9,527.8 603.9,529.8 607.8,533.8 611.8,538.7 615.8,540.7 619.8,536.8 623.8,529.8 627.7,523.8 631.7,526.8 635.7,522.8 638.7,528.8 641.7,529.8 644.7,524.8 647.6,519.8 650.6,512.9 653.6,516.8 656.0,517.8 657.0,522.8 660.0,527.8 663.0,529.8 665.9,527.8 668.9,527.8 671.9,525.8 674.9,523.8 677.5,521.8 679.9,522.8 682.9,520.8 685.8,523.8 688.8,526.8 691.8,530.8 694.8,533.8 697.8,534.8 700.8,532.8 703.8,530.8 706.7,533.8 709.7,536.8 712.7,538.7 714.7,535.8 717.3,530.8 719.7,527.8 722.7,526.8 725.6,527.8 728.6,529.8 731.6,529.8 734.0,528.8 736.0,530.8 740.0,529.8 742.9,524.8 745.9,534.8 748.9,539.7 751.9,538.7 754.9,535.8 757.9,533.8 760.9,532.8 763.8,531.8 767.4,530.8 770.8,528.8 773.8,527.8 777.4,525.8 780.8,524.8 784.1,526.8 787.3,525.8 790.1,524.8 793.7,523.8 796.7,523.8 799.7,521.8 802.6,524.8 805.6,523.8 808.6,520.8 812.0,519.8 813.0,527.8 816.0,530.8 819.0,531.8 821.9,531.8 824.9,529.8 827.9,527.8 830.9,524.8 832.9,522.8 835.5,527.8 837.9,531.8 840.8,533.8 843.8,536.8 846.8,541.7 849.8,539.7 852.8,536.8 855.8,535.8 858.8,535.8 861.7,534.8 864.7,533.4 867.7,532.8 870.7,531.8 873.7,530.8 876.7,529.8 879.7,531.4 882.6,532.8 885.6,532.8 888.6,530.8 890.0,529.8 891.3,528.0 893.2,524.2 895.1,535.0 897.0,536.3 899.0,535.7 900.9,533.8 902.8,534.4 904.7,534.4 906.6,535.0 908.6,535.7 910.5,535.0 912.4,532.5 914.3,529.3 916.2,526.7 918.1,526.1 920.1,525.4 922.0,525.4 923.9,526.1 925.8,528.6 927.7,532.5 929.7,534.4 931.6,534.4 933.5,534.4 935.4,534.4 937.3,533.8 939.9,533.1" fill="none" stroke="#bfbf00" stroke-width="1.79" stroke-linejoin="round" stroke-linecap="butt" stroke-dasharray="6.5,2.7"/>
</g>
<rect x="88.96" y="373.9" width="851.32" height="262.60" fill="none" stroke="#000" stroke-width="1.43"/>
<line x1="156.79" y1="636.5" x2="156.79" y2="642.75" stroke="#000" stroke-width="1.43"/>
<line x1="226.95" y1="636.5" x2="226.95" y2="642.75" stroke="#000" stroke-width="1.43"/>
<line x1="297.11" y1="636.5" x2="297.11" y2="642.75" stroke="#000" stroke-width="1.43"/>
<line x1="367.28" y1="636.5" x2="367.28" y2="642.75" stroke="#000" stroke-width="1.43"/>
<line x1="437.44" y1="636.5" x2="437.44" y2="642.75" stroke="#000" stroke-width="1.43"/>
<line x1="507.61" y1="636.5" x2="507.61" y2="642.75" stroke="#000" stroke-width="1.43"/>
<line x1="577.77" y1="636.5" x2="577.77" y2="642.75" stroke="#000" stroke-width="1.43"/>
<line x1="647.93" y1="636.5" x2="647.93" y2="642.75" stroke="#000" stroke-width="1.43"/>
<line x1="718.10" y1="636.5" x2="718.10" y2="642.75" stroke="#000" stroke-width="1.43"/>
<line x1="788.26" y1="636.5" x2="788.26" y2="642.75" stroke="#000" stroke-width="1.43"/>
<line x1="858.43" y1="636.5" x2="858.43" y2="642.75" stroke="#000" stroke-width="1.43"/>
<line x1="928.59" y1="636.5" x2="928.59" y2="642.75" stroke="#000" stroke-width="1.43"/>
<line x1="88.96" y1="636.50" x2="82.71" y2="636.50" stroke="#000" stroke-width="1.43"/>
<line x1="88.96" y1="583.98" x2="82.71" y2="583.98" stroke="#000" stroke-width="1.43"/>
<line x1="88.96" y1="531.46" x2="82.71" y2="531.46" stroke="#000" stroke-width="1.43"/>
<line x1="88.96" y1="478.94" x2="82.71" y2="478.94" stroke="#000" stroke-width="1.43"/>
<line x1="88.96" y1="426.42" x2="82.71" y2="426.42" stroke="#000" stroke-width="1.43"/>
<line x1="88.96" y1="373.90" x2="82.71" y2="373.90" stroke="#000" stroke-width="1.43"/>
<rect x="97.8" y="37.4" width="106.7" height="107.3" rx="3.6" ry="3.6" fill="#fff" fill-opacity="0.8" stroke="#cccccc" stroke-width="1.43"/>
<line x1="103.8" y1="51.7" x2="140.2" y2="51.7" stroke="#000" stroke-width="1.79" stroke-dasharray="6.5,2.7"/>
<line x1="103.8" y1="77.1" x2="140.2" y2="77.1" stroke="#0000ff" stroke-width="1.79"/>
<line x1="103.8" y1="102.5" x2="140.2" y2="102.5" stroke="#ff0000" stroke-width="1.79"/>
<line x1="103.8" y1="127.9" x2="140.2" y2="127.9" stroke="#bfbf00" stroke-width="1.79"/>
<g font-family='"Liberation Sans", sans-serif' fill="#000" stroke="#000" stroke-width="0.35">
<text x="156.79" y="322.50" font-size="25.0" text-anchor="middle" textLength="31.20" lengthAdjust="spacingAndGlyphs">30</text>
<text x="156.79" y="667.80" font-size="25.0" text-anchor="middle" textLength="31.20" lengthAdjust="spacingAndGlyphs">30</text>
<text x="226.95" y="322.50" font-size="25.0" text-anchor="middle" textLength="31.20" lengthAdjust="spacingAndGlyphs">60</text>
<text x="226.95" y="667.80" font-size="25.0" text-anchor="middle" textLength="31.20" lengthAdjust="spacingAndGlyphs">60</text>
<text x="297.11" y="322.50" font-size="25.0" text-anchor="middle" textLength="31.20" lengthAdjust="spacingAndGlyphs">90</text>
<text x="297.11" y="667.80" font-size="25.0" text-anchor="middle" textLength="31.20" lengthAdjust="spacingAndGlyphs">90</text>
<text x="367.28" y="322.50" font-size="25.0" text-anchor="middle" textLength="46.80" lengthAdjust="spacingAndGlyphs">120</text>
<text x="367.28" y="667.80" font-size="25.0" text-anchor="middle" textLength="46.80" lengthAdjust="spacingAndGlyphs">120</text>
<text x="437.44" y="322.50" font-size="25.0" text-anchor="middle" textLength="46.80" lengthAdjust="spacingAndGlyphs">150</text>
<text x="437.44" y="667.80" font-size="25.0" text-anchor="middle" textLength="46.80" lengthAdjust="spacingAndGlyphs">150</text>
<text x="507.61" y="322.50" font-size="25.0" text-anchor="middle" textLength="46.80" lengthAdjust="spacingAndGlyphs">180</text>
<text x="507.61" y="667.80" font-size="25.0" text-anchor="middle" textLength="46.80" lengthAdjust="spacingAndGlyphs">180</text>
<text x="577.77" y="322.50" font-size="25.0" text-anchor="middle" textLength="46.80" lengthAdjust="spacingAndGlyphs">210</text>
<text x="577.77" y="667.80" font-size="25.0" text-anchor="middle" textLength="46.80" lengthAdjust="spacingAndGlyphs">210</text>
<text x="647.93" y="322.50" font-size="25.0" text-anchor="middle" textLength="46.80" lengthAdjust="spacingAndGlyphs">240</text>
<text x="647.93" y="667.80" font-size="25.0" text-anchor="middle" textLength="46.80" lengthAdjust="spacingAndGlyphs">240</text>
<text x="718.10" y="322.50" font-size="25.0" text-anchor="middle" textLength="46.80" lengthAdjust="spacingAndGlyphs">270</text>
<text x="718.10" y="667.80" font-size="25.0" text-anchor="middle" textLength="46.80" lengthAdjust="spacingAndGlyphs">270</text>
<text x="788.26" y="322.50" font-size="25.0" text-anchor="middle" textLength="46.80" lengthAdjust="spacingAndGlyphs">300</text>
<text x="788.26" y="667.80" font-size="25.0" text-anchor="middle" textLength="46.80" lengthAdjust="spacingAndGlyphs">300</text>
<text x="858.43" y="322.50" font-size="25.0" text-anchor="middle" textLength="46.80" lengthAdjust="spacingAndGlyphs">330</text>
<text x="858.43" y="667.80" font-size="25.0" text-anchor="middle" textLength="46.80" lengthAdjust="spacingAndGlyphs">330</text>
<text x="928.59" y="322.50" font-size="25.0" text-anchor="middle" textLength="46.80" lengthAdjust="spacingAndGlyphs">360</text>
<text x="928.59" y="667.80" font-size="25.0" text-anchor="middle" textLength="46.80" lengthAdjust="spacingAndGlyphs">360</text>
<text x="76.50" y="300.50" font-size="25.0" text-anchor="end" textLength="46.80" lengthAdjust="spacingAndGlyphs">288</text>
<text x="76.50" y="247.98" font-size="25.0" text-anchor="end" textLength="46.80" lengthAdjust="spacingAndGlyphs">290</text>
<text x="76.50" y="195.46" font-size="25.0" text-anchor="end" textLength="46.80" lengthAdjust="spacingAndGlyphs">292</text>
<text x="76.50" y="142.94" font-size="25.0" text-anchor="end" textLength="46.80" lengthAdjust="spacingAndGlyphs">294</text>
<text x="76.50" y="90.42" font-size="25.0" text-anchor="end" textLength="46.80" lengthAdjust="spacingAndGlyphs">296</text>
<text x="76.50" y="37.90" font-size="25.0" text-anchor="end" textLength="46.80" lengthAdjust="spacingAndGlyphs">298</text>
<text x="76.50" y="645.60" font-size="25.0" text-anchor="end" textLength="34.60" lengthAdjust="spacingAndGlyphs">−2</text>
<text x="76.50" y="593.08" font-size="25.0" text-anchor="end" textLength="34.60" lengthAdjust="spacingAndGlyphs">−1</text>
<text x="76.50" y="540.56" font-size="25.0" text-anchor="end" textLength="15.60" lengthAdjust="spacingAndGlyphs">0</text>
<text x="76.50" y="488.04" font-size="25.0" text-anchor="end" textLength="15.60" lengthAdjust="spacingAndGlyphs">1</text>
<text x="76.50" y="435.52" font-size="25.0" text-anchor="end" textLength="15.60" lengthAdjust="spacingAndGlyphs">2</text>
<text x="76.50" y="383.00" font-size="25.0" text-anchor="end" textLength="15.60" lengthAdjust="spacingAndGlyphs">3</text>
<text x="514.45" y="18.50" font-size="25.0" text-anchor="middle" textLength="474.70" lengthAdjust="spacingAndGlyphs">(a) 31-day Running Mean Annual Cycle</text>
<text x="514.00" y="363.60" font-size="25.0" text-anchor="middle" textLength="148.80" lengthAdjust="spacingAndGlyphs">(b) Anomaly</text>
<text x="514.70" y="697.80" font-size="25.0" text-anchor="middle" textLength="159.20" lengthAdjust="spacingAndGlyphs">Day in a Year</text>
<text transform="translate(17.9,160.5) rotate(-90)" x="0" y="0" font-size="25.0" text-anchor="middle" textLength="88.4" lengthAdjust="spacingAndGlyphs">SST (K)</text>
<text transform="translate(29.4,506) rotate(-90)" x="0" y="0" font-size="25.0" text-anchor="middle" textLength="203" lengthAdjust="spacingAndGlyphs">SST Anomaly (K)</text>
<text x="154.00" y="58.10" font-size="18.2" text-anchor="start" textLength="37.50" lengthAdjust="spacingAndGlyphs">Clim</text>
<text x="154.00" y="83.50" font-size="18.2" text-anchor="start" textLength="42.80" lengthAdjust="spacingAndGlyphs">2007</text>
<text x="154.00" y="108.90" font-size="18.2" text-anchor="start" textLength="42.80" lengthAdjust="spacingAndGlyphs">2009</text>
<text x="154.00" y="134.30" font-size="18.2" text-anchor="start" textLength="42.80" lengthAdjust="spacingAndGlyphs">2020</text>
</g>
</svg>
</body></html>
